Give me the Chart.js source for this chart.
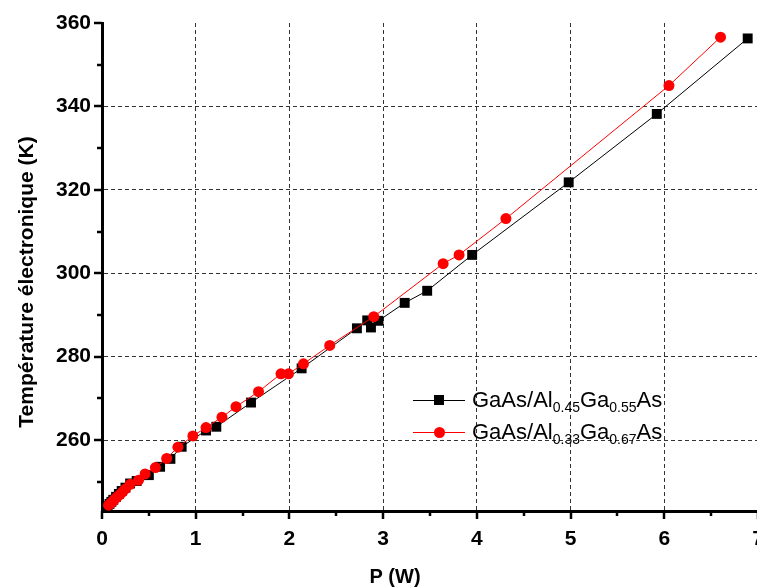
<!DOCTYPE html>
<html>
<head>
<meta charset="utf-8">
<script src="https://cdn.jsdelivr.net/npm/chart.js@4.4.1/dist/chart.umd.min.js"></script>
<style>
  html, body { margin: 0; padding: 0; background: #fff; }
  #wrap { position: relative; width: 757px; height: 588px; overflow: hidden; }
  #legend { position: absolute; left: 413px; top: 384px; font-family: Arial, "Liberation Sans", sans-serif; font-size: 22px; color: #000; }
  .row { display: flex; align-items: center; height: 32px; white-space: nowrap; }
  .key { position: relative; width: 52px; height: 12px; margin-right: 7px; }
  .key .ln { position: absolute; left: 0; right: 0; top: 5.5px; height: 1px; }
  .key .mk { position: absolute; left: 21px; top: 1px; width: 10px; height: 10px; }
  sub { font-size: 14px; vertical-align: -5px; line-height: 0; }
</style>
</head>
<body>
<div id="wrap">
  <canvas id="chart" width="765" height="588"></canvas>
  <div id="legend">
    <div class="row"><div class="key"><div class="ln" style="background:#000"></div><div class="mk" style="background:#000"></div></div><span>GaAs/Al<sub>0.45</sub>Ga<sub>0.55</sub>As</span></div>
    <div class="row"><div class="key"><div class="ln" style="background:#f00"></div><div class="mk" style="background:#f00;border-radius:50%;width:11px;height:11px;top:0.5px"></div></div><span>GaAs/Al<sub>0.33</sub>Ga<sub>0.67</sub>As</span></div>
  </div>
</div>
<script>
// P (W) and electron temperature (K)
const pBlack = [0.06, 0.08, 0.10, 0.12, 0.15, 0.18, 0.21, 0.25, 0.30, 0.37, 0.50, 0.62, 0.73, 0.85, 1.11, 1.22, 1.59, 2.13, 2.72, 2.83, 2.87, 2.95, 3.23, 3.47, 3.95, 4.98, 5.92, 6.89];
const tBlack = [244.2, 244.7, 245.2, 245.7, 246.4, 247.1, 247.8, 248.6, 249.6, 250.2, 251.6, 253.6, 255.5, 258.4, 262.3, 263.2, 269.0, 277.2, 286.8, 288.7, 287.0, 288.6, 292.9, 295.8, 304.4, 321.8, 338.2, 356.3];

const pRed = [0.07, 0.09, 0.11, 0.13, 0.16, 0.19, 0.22, 0.25, 0.30, 0.39, 0.46, 0.57, 0.69, 0.81, 0.97, 1.11, 1.28, 1.43, 1.67, 1.91, 1.99, 2.15, 2.43, 2.90, 3.64, 3.81, 4.31, 6.05, 6.60];
const tRed = [244.4, 244.8, 245.2, 245.7, 246.3, 246.9, 247.6, 248.3, 249.4, 250.4, 251.9, 253.4, 255.6, 258.3, 261.0, 263.0, 265.5, 268.0, 271.6, 275.9, 275.9, 278.3, 282.7, 289.6, 302.3, 304.4, 313.1, 345.0, 356.6];

const xTicks = [0, 0.5, 1, 1.5, 2, 2.5, 3, 3.5, 4, 4.5, 5, 5.5, 6, 6.5, 7];
const yTicks = [250, 260, 270, 280, 290, 300, 310, 320, 330, 340, 350, 360];

const FONT = 'Arial, "Liberation Sans", sans-serif';
Chart.defaults.font.family = FONT;
Chart.defaults.color = '#000';

const toXY = (xs, ys) => xs.map((x, i) => ({ x: x, y: ys[i] }));

// outward ticks (major long, minor short) and the two axis titles
const axisDeco = {
  id: 'axisDeco',
  afterDraw(chart) {
    const { ctx, chartArea: a, scales: { x, y } } = chart;
    ctx.save();
    ctx.strokeStyle = '#000';
    ctx.lineWidth = 2.5;
    xTicks.forEach(v => {
      const px = Math.round(x.getPixelForValue(v));
      const len = Number.isInteger(v) ? 8 : 5;
      ctx.beginPath(); ctx.moveTo(px, a.bottom); ctx.lineTo(px, a.bottom + len); ctx.stroke();
    });
    yTicks.forEach(v => {
      const py = Math.round(y.getPixelForValue(v));
      const len = v % 20 === 0 ? 8 : 5;
      ctx.beginPath(); ctx.moveTo(a.left, py); ctx.lineTo(a.left - len, py); ctx.stroke();
    });
    ctx.fillStyle = '#000';
    ctx.font = 'bold 20px ' + FONT;
    ctx.textAlign = 'center';
    ctx.textBaseline = 'middle';
    ctx.fillText('P (W)', 395, 577);
    ctx.font = 'bold 21px ' + FONT;
    ctx.translate(27, 282);
    ctx.rotate(-Math.PI / 2);
    ctx.fillText('Température électronique (K)', 0, 0);
    ctx.restore();
  }
};

const gridColor = (edge) => (c) => {
  if (!c.tick) return 'rgba(0,0,0,0)';
  return edge(c.tick.value) ? '#333' : 'rgba(0,0,0,0)';
};

new Chart(document.getElementById('chart'), {
  type: 'scatter',
  data: {
    datasets: [
      {
        label: 'GaAs/Al0.33Ga0.67As',
        data: toXY(pRed, tRed),
        showLine: true,
        borderColor: '#ff0000',
        borderWidth: 1,
        backgroundColor: '#ff0000',
        pointStyle: 'circle',
        pointRadius: 5.5,
        pointBorderWidth: 0,
        tension: 0,
        order: 0
      },
      {
        label: 'GaAs/Al0.45Ga0.55As',
        data: toXY(pBlack, tBlack),
        showLine: true,
        borderColor: '#000',
        borderWidth: 1,
        backgroundColor: '#000',
        pointStyle: 'rect',
        pointRadius: 7,
        pointBorderWidth: 0,
        tension: 0,
        order: 1
      }
    ]
  },
  options: {
    responsive: false,
    animation: false,
    devicePixelRatio: 1,
    layout: { padding: { top: 23, left: 0, right: 0, bottom: 0 } },
    plugins: { legend: { display: false }, tooltip: { enabled: false } },
    scales: {
      x: {
        type: 'linear',
        min: 0, max: 7,
        afterBuildTicks: s => { s.ticks = xTicks.map(v => ({ value: v })); },
        afterFit: s => { s.height = 77; s.paddingLeft = 0; s.paddingRight = 0; },
        ticks: {
          autoSkip: false, maxRotation: 0, padding: 16,
          font: { size: 21, weight: 'bold' },
          callback: v => Number.isInteger(v) ? String(v) : ''
        },
        grid: { drawTicks: false, lineWidth: 1, color: gridColor(v => Number.isInteger(v) && v > 0 && v < 7) },
        border: { display: true, color: '#000', width: 3, dash: [4, 3] }
      },
      y: {
        type: 'linear',
        min: 243, max: 360,
        afterBuildTicks: s => { s.ticks = yTicks.map(v => ({ value: v })); },
        afterFit: s => { s.width = 102; s.paddingTop = 0; s.paddingBottom = 0; },
        ticks: {
          autoSkip: false, padding: 11,
          font: { size: 21, weight: 'bold' },
          callback: v => v % 20 === 0 ? String(v) : ''
        },
        grid: { drawTicks: false, lineWidth: 1, color: gridColor(v => v % 20 === 0 && v < 360) },
        border: { display: true, color: '#000', width: 3, dash: [4, 3] }
      }
    }
  },
  plugins: [axisDeco]
});
</script>
</body>
</html>
